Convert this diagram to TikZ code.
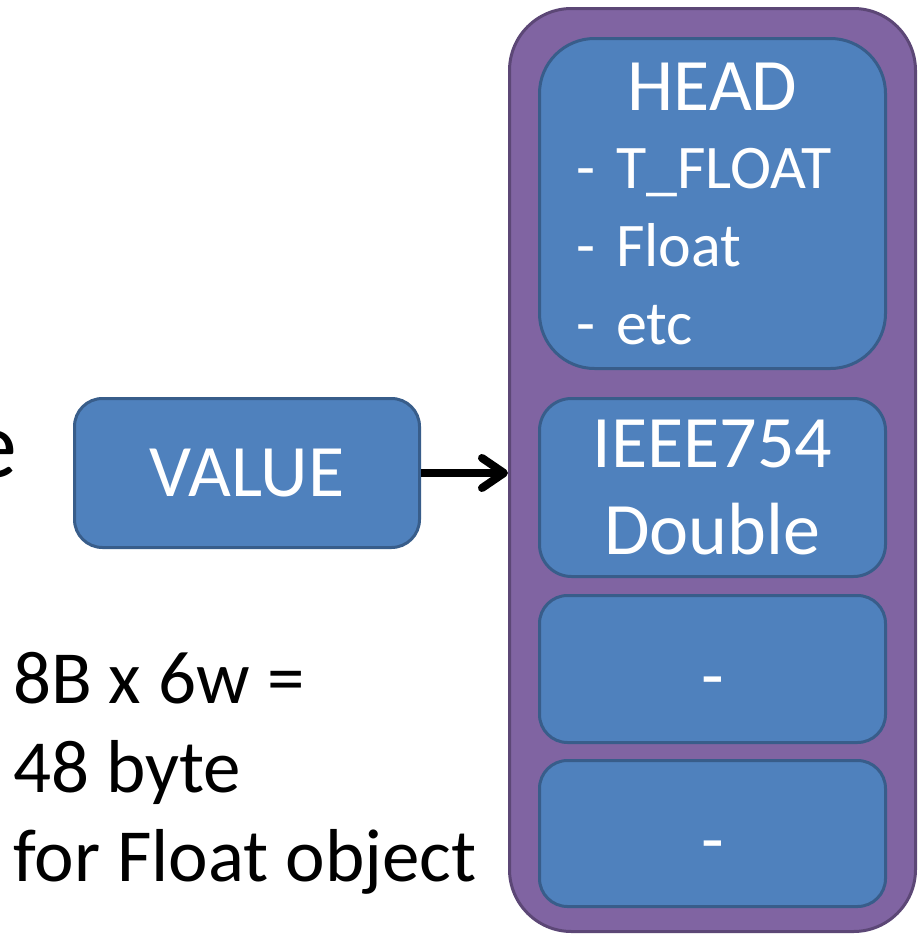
\documentclass[tikz,border=0pt]{standalone}
\usepackage{fontspec}
\setmainfont{Carlito}
\usepackage{tikz}
\usetikzlibrary{positioning,arrows.meta}

\definecolor{cellfill}{HTML}{4F81BD}
\definecolor{cellline}{HTML}{385D8A}
\definecolor{framefill}{HTML}{8064A2}
\definecolor{frameline}{HTML}{5C4776}

\begin{document}
\begin{tikzpicture}[
    x=1pt, y=-1pt,
    frame/.style = {draw=frameline, fill=framefill, line width=3pt, rounded corners=62pt, minimum width=406pt, minimum height=923pt},
    cell/.style = {draw=cellline, fill=cellfill, line width=3pt, text=white, minimum width=346pt, inner sep=0pt,
                   font=\fontsize{74}{87}\selectfont},
    > = {Straight Barb[length=22pt, width=30pt, round]}
]
\useasboundingbox (0,0) rectangle (918,937);

\node (fr) [frame] at (712.5,470) {};
\node (hd) [cell, minimum height=330pt, rounded corners=55pt, align=left, text width=272pt,
            font=\fontsize{62}{78}\selectfont] at (712.5,203.5)
    {\makebox[272pt][c]{\fontsize{74}{78}\selectfont HEAD}\\- T\_FLOAT\\- Float\\- etc\\[-6pt]};
\node (ieee) [cell, align=center, minimum height=178pt, rounded corners=32pt, below=27pt of hd] {IEEE754\\Double};
\node (w2) [cell, minimum height=147pt, rounded corners=28pt, text height=62pt, text depth=0pt, below=16pt of ieee] {-};
\node (w3) [cell, minimum height=146pt, rounded corners=28pt, text height=62pt, text depth=0pt, below=15pt of w2] {-};

\node (val) [cell, minimum width=345pt, minimum height=149pt, rounded corners=28pt] at (247,473) {VALUE};

\node (cut) [anchor=base east, inner sep=0pt, font=\fontsize{96}{96}\selectfont] at (17,477) {e};
\node (size) [anchor=north west, inner sep=0pt, align=left, font=\fontsize{75}{89}\selectfont] at (13,652)
    {8B x 6w =\\48 byte\\for Float object};

\draw[->, line width=8pt] (val.east) -- (val.east -| fr.west);
\end{tikzpicture}
\end{document}
